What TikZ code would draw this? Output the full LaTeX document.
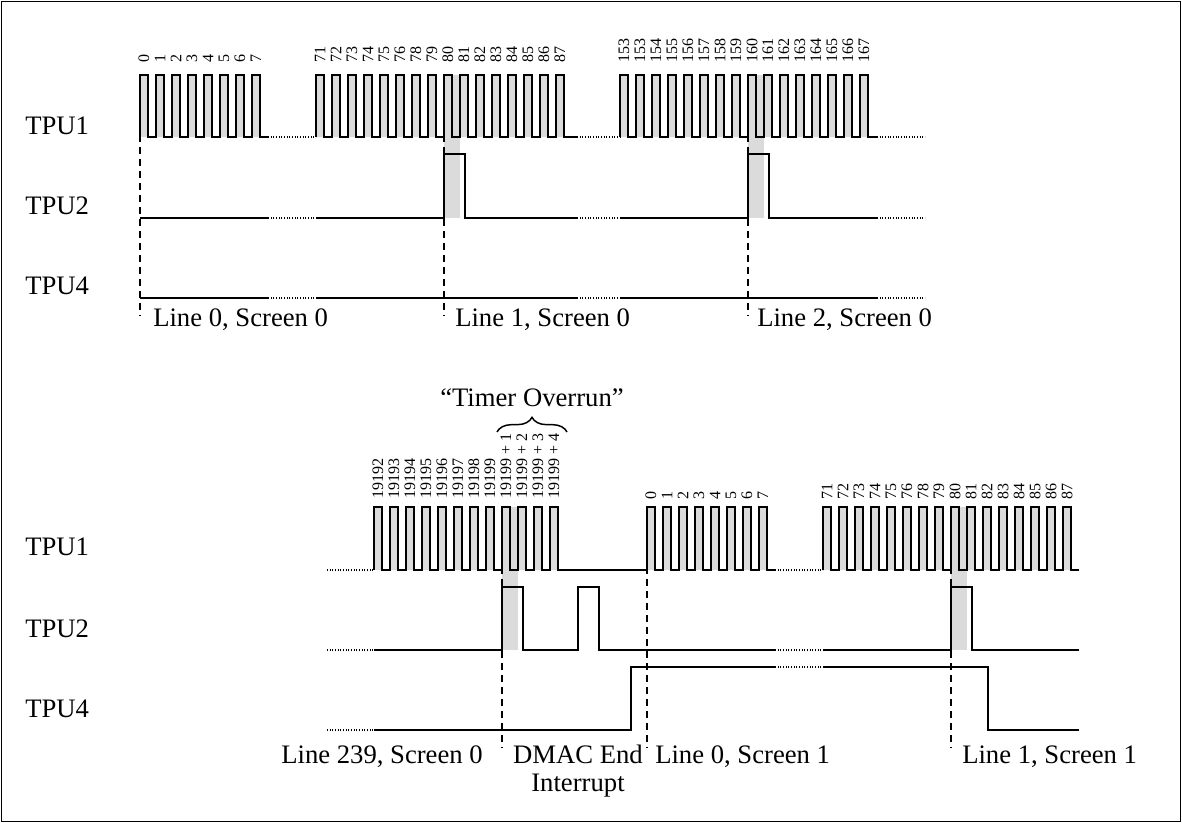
\documentclass[tikz,border=0pt]{standalone}
\usepackage{fontspec}
\setmainfont{Liberation Serif}
\usetikzlibrary{decorations.pathreplacing}
\newcommand{\ptrain}[5]{% x0, ylow, height, n, xend
  \foreach \k in {1,...,#4} \fill[shade] ({#1+16*(\k-1)},#2) rectangle ++(8,-#3);
  \draw[sig] (#1,#2) \foreach \k in {1,...,#4}{ -- ++(0,-#3) -- ++(8,0) -- ++(0,#3) -- ++(8,0)} -- (#5,#2);
}
\newcommand{\plabels}[4]{% x0, ybottom, prefix, list
  \foreach \t [count=\i from 0] in {#4} \node[num] (#3\i) at ({#1+4+16*\i},#2) {\t};
}
\begin{document}
\begin{tikzpicture}[x=0.75pt,y=-0.75pt,
  sig/.style={line width=1.5pt, line join=miter},
  dots/.style={line width=0.8pt, dash pattern=on 0.8pt off 1.2pt},
  vline/.style={line width=1.5pt, dash pattern=on 5.5pt off 3.5pt},
  shade/.style={fill=gray!28},
  lbl/.style={font=\fontsize{20}{21}\selectfont, inner sep=0pt},
  num/.style={font=\fontsize{12}{13}\selectfont, inner sep=0pt, rotate=90, anchor=west},
]
\useasboundingbox (0,0) rectangle (1182,823);
\draw[line width=1.2pt] (1.5,1.5) rectangle (1180.5,821.5);

% ---------- top section ----------
\fill[shade] (444,75) rectangle (460,218);
\fill[shade] (748,75) rectangle (764,218);

% TPU1
\ptrain{140}{137}{62}{8}{268}
\draw[dots] (268,137) -- (316,137);
\ptrain{316}{137}{62}{16}{577}
\draw[dots] (577,137) -- (620,137);
\ptrain{620}{137}{62}{16}{877}
\draw[dots] (877,137) -- (925,137);

\plabels{140}{63}{ta}{0,1,2,3,4,5,6,7}
\plabels{316}{63}{tb}{71,72,73,74,75,76,78,79,80,81,82,83,84,85,86,87}
\plabels{620}{63}{tc}{153,153,154,155,156,157,158,159,160,161,162,163,164,165,166,167}

% TPU2
\draw[sig] (140,218) -- (268,218);
\draw[dots] (268,218) -- (316,218);
\draw[sig] (316,218) -- (444,218) -- (444,154) -- (465,154) -- (465,218) -- (577,218);
\draw[dots] (577,218) -- (620,218);
\draw[sig] (620,218) -- (748,218) -- (748,154) -- (769,154) -- (769,218) -- (877,218);
\draw[dots] (877,218) -- (925,218);

% TPU4
\draw[sig] (140,298) -- (268,298);
\draw[dots] (268,298) -- (316,298);
\draw[sig] (316,298) -- (577,298);
\draw[dots] (577,298) -- (620,298);
\draw[sig] (620,298) -- (877,298);
\draw[dots] (877,298) -- (925,298);

% dashed markers
\coordinate (da1) at (140,75);  \coordinate (db1) at (140,316);
\coordinate (da2) at (444,75);  \coordinate (db2) at (444,316);
\coordinate (da3) at (748,75);  \coordinate (db3) at (748,316);
\draw[vline] (da1) -- (db1);
\draw[vline] (da2) -- (db2);
\draw[vline] (da3) -- (db3);

\node[lbl, anchor=base west] (t1) at (25,135) {TPU1};
\node[lbl, anchor=base west] (t2) at (25,215) {TPU2};
\node[lbl, anchor=base west] (t4) at (25,295) {TPU4};

\node[lbl, anchor=base west] (l00) at (153,327) {Line 0, Screen 0};
\node[lbl, anchor=base west] (l10) at (455,327) {Line 1, Screen 0};
\node[lbl, anchor=base west] (l20) at (757,327) {Line 2, Screen 0};

% ---------- bottom section ----------
\fill[shade] (502,507) rectangle (518,650);
\fill[shade] (951,507) rectangle (967,650);

% TPU1
\draw[dots] (327,570) -- (374,570);
\ptrain{374}{570}{63}{12}{647}
\ptrain{647}{570}{63}{8}{775}
\draw[dots] (775,570) -- (823,570);
\ptrain{823}{570}{63}{16}{1079}

\plabels{374}{499}{ba}{19192,19193,19194,19195,19196,19197,19198,19199,19199 + 1,19199 + 2,19199 + 3,19199 + 4}
\plabels{647}{500}{bb}{0,1,2,3,4,5,6,7}
\plabels{823}{500}{bc}{71,72,73,74,75,76,78,79,80,81,82,83,84,85,86,87}

% TPU2
\draw[dots] (327,650) -- (374,650);
\draw[sig] (374,650) -- (502,650) -- (502,587) -- (523,587) -- (523,650) -- (578,650) -- (578,587) -- (599,587) -- (599,650) -- (775,650);
\draw[dots] (775,650) -- (823,650);
\draw[sig] (823,650) -- (951,650) -- (951,587) -- (972,587) -- (972,650) -- (1079,650);

% TPU4
\draw[dots] (327,730) -- (374,730);
\draw[sig] (374,730) -- (631,730) -- (631,667) -- (775,667);
\draw[dots] (775,667) -- (823,667);
\draw[sig] (823,667) -- (988,667) -- (988,730) -- (1079,730);

\coordinate (ea1) at (502,507); \coordinate (eb1) at (502,748);
\coordinate (ea2) at (647,507); \coordinate (eb2) at (647,748);
\coordinate (ea3) at (951,507); \coordinate (eb3) at (951,748);
\draw[vline] (ea1) -- (eb1);
\draw[vline] (ea2) -- (eb2);
\draw[vline] (ea3) -- (eb3);

\coordinate (brL) at (497,432);
\coordinate (brR) at (567,432);
\draw[line width=1.1pt, decorate, decoration={brace, amplitude=11pt}] (brL) -- (brR);
\node[lbl, anchor=base] (ovr) at (532,407) {“Timer Overrun”};

\node[lbl, anchor=base west] (u1) at (25,555) {TPU1};
\node[lbl, anchor=base west] (u2) at (25,637) {TPU2};
\node[lbl, anchor=base west] (u4) at (25,717) {TPU4};

\node[lbl, anchor=base east] (l239) at (483,763) {Line 239, Screen 0};
\node[lbl, anchor=base] (dm1) at (578,763) {DMAC End};
\node[lbl, anchor=base] (dm2) at (578,791) {Interrupt};
\node[lbl, anchor=base west] (l01) at (655,763) {Line 0, Screen 1};
\node[lbl, anchor=base west] (l11) at (962,763) {Line 1, Screen 1};
\end{tikzpicture}
\end{document}
